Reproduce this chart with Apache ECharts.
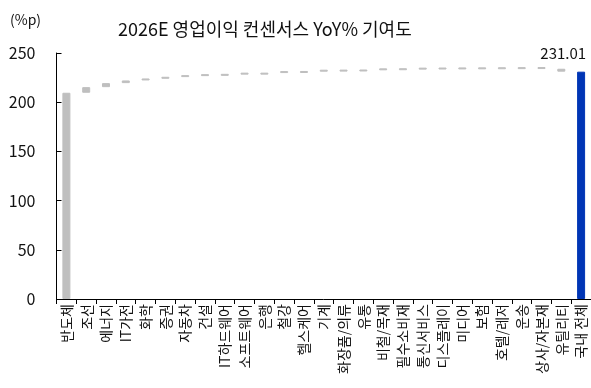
<!DOCTYPE html>
<html>
<head>
<meta charset="utf-8">
<script src="https://cdn.jsdelivr.net/npm/echarts@6/dist/echarts.min.js"></script>
<style>
  html, body { margin: 0; padding: 0; background: #fff; }
  #main { width: 591px; height: 388px; }
</style>
</head>
<body>
<div id="main"></div>
<script>
// 업종별 기여도 (%p), 마지막은 국내 전체
var sectors = ['반도체', '조선', '에너지', 'IT가전', '화학', '증권', '자동차', '건설', 'IT하드웨어', '소프트웨어',
  '은행', '철강', '헬스케어', '기계', '화장품/의류', '유통', '비철/목재', '필수소비재', '통신서비스', '디스플레이',
  '미디어', '보험', '호텔/레저', '운송', '상사/자본재', '유틸리티', '국내 전체'];
var contrib = [209.6, 5.7, 4.1, 2.7, 1.7, 1.7, 1.0, 0.3, 1.5, -0.3,
  1.6, 0.1, 1.3, 0.1, 0.1, 1.2, 0.1, 0.6, 0.1, 0.1,
  0.1, 0.1, 0.1, 0.1, 0.3, -2.99];
var total = 231.01;
var yTicks = [0, 50, 100, 150, 200, 250];

var GRAY = '#bfbfbf';
var BLUE = '#0035b5';
var FONT = '"Noto Sans CJK KR", "Noto Sans", sans-serif';

// 워터폴: 투명 베이스 + 보이는 구간
var baseData = [];
var barData = [];
var cum = 0;
contrib.forEach(function (d) {
  var next = cum + d;
  baseData.push(Math.min(cum, next));
  barData.push({ value: Math.abs(d), itemStyle: { color: GRAY, borderColor: GRAY } });
  cum = next;
});
baseData.push(0);
barData.push({
  value: total,
  itemStyle: { color: BLUE, borderColor: BLUE },
  label: {
    show: true,
    position: 'top',
    align: 'right',
    offset: [5, -6],
    formatter: function () { return total.toFixed(2); },
    color: '#111',
    fontSize: 15,
    fontFamily: FONT
  }
});

var chart = echarts.init(document.getElementById('main'));
chart.setOption({
  animation: false,
  textStyle: { fontFamily: FONT },
  title: [
    {
      text: '2026E 영업이익 컨센서스 YoY% 기여도',
      left: 118,
      top: 20,
      padding: 0,
      textStyle: { fontSize: 18, fontWeight: 'normal', color: '#111', fontFamily: FONT }
    },
    {
      text: '(%p)',
      left: 10,
      top: 13,
      padding: 0,
      textStyle: { fontSize: 14, fontWeight: 'normal', color: '#111', fontFamily: FONT }
    }
  ],
  grid: { left: 56.5, top: 53, bottom: 89, width: 536 },
  xAxis: {
    type: 'category',
    data: sectors,
    axisLine: { lineStyle: { color: '#000', width: 1 } },
    axisTick: { show: true, length: 5, lineStyle: { color: '#000' } },
    axisLabel: {
      interval: 0,
      rotate: 90,
      margin: 5,
      fontSize: 14,
      color: '#111',
      fontFamily: FONT
    }
  },
  yAxis: {
    type: 'value',
    min: yTicks[0],
    max: yTicks[yTicks.length - 1],
    interval: 50,
    axisLine: { show: true, lineStyle: { color: '#000', width: 1 } },
    axisTick: { show: true, inside: true, length: 5, lineStyle: { color: '#000' } },
    splitLine: { show: false },
    axisLabel: { margin: 21, fontSize: 16, color: '#111', fontFamily: FONT }
  },
  series: [
    {
      type: 'bar',
      stack: 'w',
      silent: true,
      barWidth: 8,
      itemStyle: { color: 'transparent' },
      data: baseData
    },
    {
      type: 'bar',
      stack: 'w',
      barWidth: 8,
      barMinHeight: 2,
      itemStyle: { borderWidth: 1 },
      data: barData
    }
  ]
});
</script>
</body>
</html>
